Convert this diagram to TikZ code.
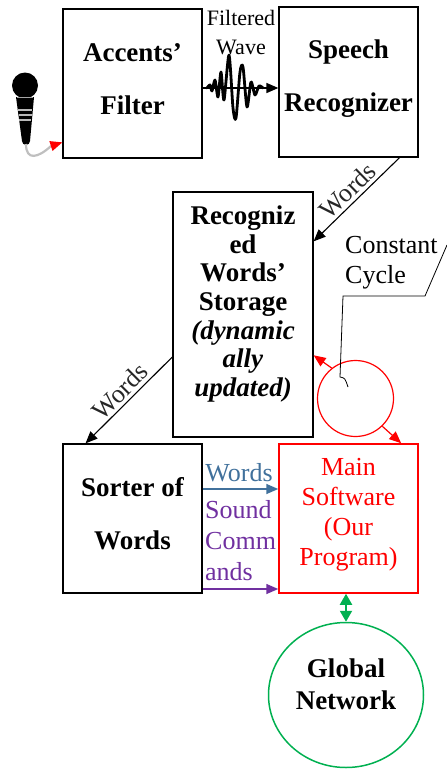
\documentclass[tikz,border=0pt]{standalone}
\usepackage{fontspec}
\setmainfont{Liberation Serif}
\usetikzlibrary{arrows.meta,shapes.geometric}
\definecolor{wblue}{HTML}{41719C}
\definecolor{wpurple}{HTML}{7030A0}
\definecolor{wgreen}{HTML}{00B050}
\definecolor{cablegrey}{HTML}{BFBFBF}
\begin{document}
\begin{tikzpicture}[x=1pt,y=-1pt,
  boldtwo/.style={font=\fontsize{27}{53}\selectfont\bfseries, align=center, inner sep=0pt},
  boldmany/.style={font=\fontsize{27}{28.7}\selectfont\bfseries, align=center, inner sep=0pt},
  plain/.style={font=\fontsize{26}{30}\selectfont, inner sep=0pt},
  box/.style={draw, line width=1.3pt, inner sep=0pt, minimum width=139pt, minimum height=149pt},
  blacktip/.style={-{Triangle[length=12pt,width=10pt]}, line width=1.1pt},
  redtip/.style={red, -{Triangle[length=12pt,width=10pt]}, line width=1.2pt},
  lbl/.style={font=\fontsize{26}{30}\selectfont, inner sep=2pt, text=black!85},
]
\useasboundingbox (0,0) rectangle (447,769);

% boxes
\node[box] (acc) at (132.5,83.5) {};
\node[boldtwo] (acct) at (132.5,79.5) {Accents’\\Filter};
\node[box, minimum height=150pt] (speech) at (348.5,82) {};
\node[boldtwo] (speecht) at (348.5,78.5) {Speech\\Recognizer};
\node[box, minimum width=140pt, minimum height=245pt] (storage) at (243,314.5) {};
\node[boldmany] (storaget) at (243,304) {Recogniz\\ed\\Words’\\Storage\\\textit{(dynamic}\\\textit{ally}\\\textit{updated)}};
\node[box] (sorter) at (132.5,518.5) {};
\node[boldtwo] (sortert) at (132.5,514) {Sorter of\\Words};
\node[box, draw=red, line width=1.5pt] (main) at (348.5,518.5) {};
\node[plain, align=center, text=red] (maint) at (348.5,515) {Main\\Software\\(Our\\Program)};
\node[ellipse, draw=wgreen, line width=1.5pt, minimum width=155pt, minimum height=145pt, inner sep=0pt] (global) at (346,695) {};
\node[font=\fontsize{27}{32}\selectfont\bfseries, align=center, inner sep=0pt] (globalt) at (346,684) {Global\\Network};
\node[circle, draw=red, line width=1.2pt, minimum size=76pt, inner sep=0pt] (cyc) at (355.5,398.5) {};

% texts
\node[font=\fontsize{22}{29}\selectfont, align=center, inner sep=0pt] (fw) at (241,32.5) {Filtered\\Wave};
\node[plain, align=left, anchor=west] (cc) at (345,263) {Constant\\Cycle};
\node[plain, text=wblue] (bw) at (239,473) {Words};
\node[font=\fontsize{26}{31}\selectfont, align=left, anchor=west, inner sep=0pt, text=wpurple] (sc) at (205,541) {Sound\\Comm\\ands};

% callout line
\draw[line width=0.8pt] (447,245) -- (425,296) -- (343,296) -- (340,377) .. controls (345,378) .. (348,387);

% wave connector
\draw[blacktip, line width=1.6pt] ([yshift=-4.5pt]acc.east) -- ([yshift=-4.5pt]acc.east -| speech.west);
\draw[line width=2.8pt, line join=round, line cap=round] plot[smooth, tension=0.45] coordinates {(207,88) (210,85) (212,91) (215,80) (218,97) (221,72) (224,100) (229,55) (233,108) (236,118) (240,72) (243,67) (247,107) (251,82) (255,95) (259,86) (263,88)};

% microphone
\fill (25,85.5) circle (13pt);
\fill (16,97) -- (34,97) -- (30,141) arc[start angle=0, end angle=-180, radius=4pt] -- cycle;
\draw[gray!55, line width=1.2pt] (18,110) -- (32,110) (18.5,115) -- (31.5,115) (19,120) -- (31,120);
\draw[gray!70, line width=1.5pt] (17,97.5) -- (33,97.5);
\coordinate (micend) at (51,146);
\draw[cablegrey, line width=2.2pt] (26,144) .. controls (26,161) and (38,158) .. (micend);
\draw[redtip] (micend) -- (acc.220.1);

% connectors
\draw[blacktip] (speech.-56.6) -- node[lbl, midway, sloped, above=1pt] (w1) {Words} (storage.46.8);
\draw[blacktip] (storage.211.3) -- node[lbl, midway, sloped, above=1pt] (w2) {Words} (sorter.122.5);
\draw[redtip] (cyc.128) -- (storage.-30);
\draw[redtip] (cyc.-46) -- (main.55.3);
\draw[wblue, line width=1.6pt, -{Triangle[length=12pt,width=10pt]}] ([yshift=29.5pt]sorter.east) -- ([yshift=29.5pt]main.west);
\draw[wpurple, line width=1.6pt, -{Triangle[length=12pt,width=10pt]}] ([yshift=-70.5pt]sorter.east) -- ([yshift=-70.5pt]main.west);
\draw[wgreen, line width=2pt, {Triangle[length=11pt,width=12pt]}-{Triangle[length=11pt,width=12pt]}] (main.south -| global.north) -- (global.north);
\end{tikzpicture}
\end{document}
